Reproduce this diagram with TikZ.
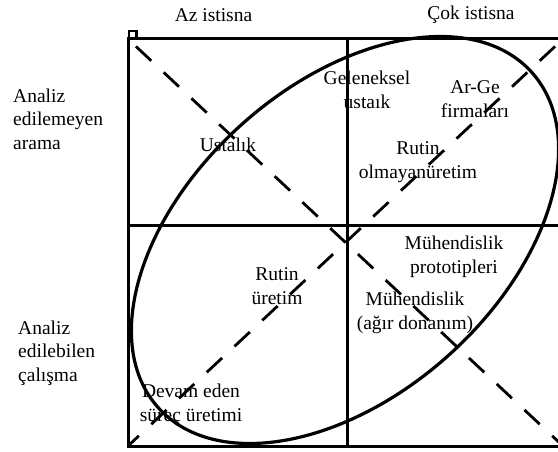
\documentclass[tikz,border=0pt]{standalone}
\usepackage{fontspec}
\setmainfont{Liberation Serif}
\begin{document}
\begin{tikzpicture}[x=1pt,y=-1pt,
  frame/.style={line width=3pt},
  oval/.style={line width=3.2pt},
  diag/.style={line width=2.8pt,dash pattern=on 21pt off 17pt},
  lbl/.style={inner sep=0pt,align=center,font=\fontsize{19.5}{23.5}\selectfont},
  side/.style={inner sep=0pt,align=left,anchor=west,font=\fontsize{19.5}{23.5}\selectfont}]
\useasboundingbox (0,0) rectangle (558,452);
\clip (0,0) rectangle (558,452);
\coordinate (TL) at (128,39);
\coordinate (TR) at (563,39);
\coordinate (BL) at (128,446);
\coordinate (BR) at (563,446);
\coordinate (C) at (345.5,242.5);
% frame
\draw[frame] (TL) rectangle (BR);
\draw[frame] (347,39) -- (347,446);
\draw[frame] (128,225) -- (563,225);
\draw[line width=2.4pt] (129,31) rectangle (136.5,39);
% diagonals
\draw[diag] (C) -- (TL);
\draw[diag] (C) -- (TR);
\draw[diag,dash phase=21pt] (C) -- (BL);
\draw[diag,dash phase=21pt] (C) -- (BR);
% ellipse
\draw[oval,rotate around={41.9:(345,240)}] (345,240) ellipse [x radius=251, y radius=155];
% labels
\node[lbl] (az) at (213.5,15) {Az istisna};
\node[lbl] (cok) at (471,15) {Çok istisna};
\node[side] (ae1) at (13,119) {Analiz\\edilemeyen\\arama};
\node[side] (ae2) at (18,353) {Analiz\\edilebilen\\çalışma};
\node[lbl] (gel) at (367,90) {Geleneksel\\ustaık};
\node[lbl] (arge) at (475,99) {Ar-Ge\\firmaları};
\node[lbl] (rno) at (418,162) {Rutin\\olmayanüretim};
\node[lbl] (ust) at (228,145) {Ustalık};
\node[lbl] (rut) at (277,286) {Rutin\\üretim};
\node[lbl] (mp) at (454,257) {Mühendislik\\prototipleri};
\node[lbl] (mad) at (415,313) {Mühendislik\\(ağır donanım)};
\node[lbl] (dev) at (191,405) {Devam eden\\süreç üretimi};
\end{tikzpicture}
\end{document}
